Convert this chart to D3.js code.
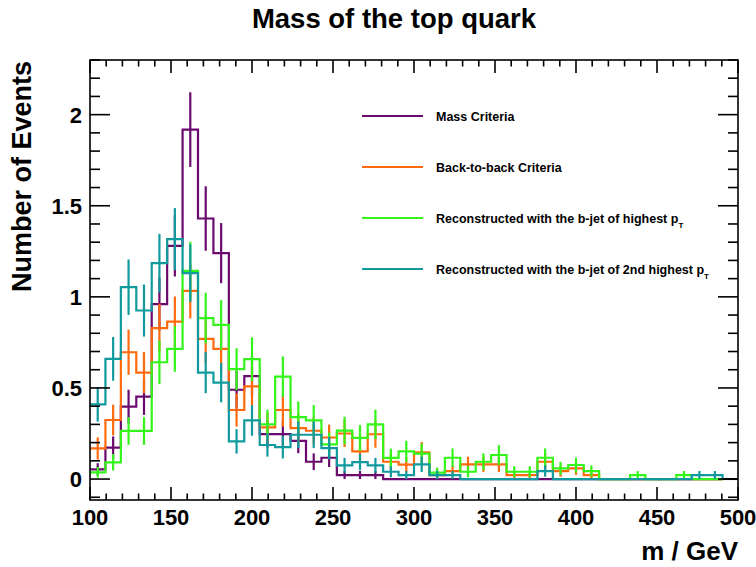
<!DOCTYPE html>
<html><head><meta charset="utf-8">
<script src="https://cdn.jsdelivr.net/npm/d3@7"></script>
<style>
body{margin:0;background:#fff}
text{font-family:"Liberation Sans",Arial,Helvetica,sans-serif;font-weight:bold;fill:#000}
</style>
</head><body>
<svg id="chart" width="756" height="567"></svg>
<script>
// ---- data (41 bins of width 400/42 GeV starting at 100 GeV) ----
const binStart = 100;
const binWidth = 400 / 42;
const seriesNames = ["Mass Criteria", "Back-to-back Criteria", "Reconstructed with the b-jet of highest p", "Reconstructed with the b-jet of 2nd highest p"];
const seriesColors = ["#6b0a6e", "#ff6a0d", "#33f51a", "#109a9e"];

const massCriteria = [0.053,0.172,0.397,0.452,0.96,1.28,1.918,1.43,1.24,0.49,0.565,0.247,0.247,0.21,0.095,0.117,0.022,0.022,0.022,0,0,0,0,0,0,0,0,0,0,0,0,0,0,0,0,0,0,0,0,0,0];
const massCriteriaErr = [0.034,0.062,0.093,0.10,0.145,0.168,0.205,0.177,0.165,0.104,0.111,0.074,0.074,0.068,0.046,0.051,0.022,0.022,0.022,0,0,0,0,0,0,0,0,0,0,0,0,0,0,0,0,0,0,0,0,0,0];

const backToBack = [0.168,0.324,0.696,0.584,0.828,0.864,1.033,0.769,0.714,0.379,0.509,0.284,0.379,0.28,0.265,0.228,0.25,0.152,0.246,0.095,0.079,0.146,0.022,0.044,0.081,0.081,0.081,0.022,0.022,0.095,0.044,0.059,0.022,0,0,0,0,0,0,0,0];
const backToBackErr = [0.061,0.084,0.124,0.113,0.135,0.138,0.151,0.130,0.125,0.091,0.106,0.079,0.091,0.078,0.076,0.071,0.074,0.058,0.074,0.046,0.042,0.057,0.022,0.031,0.042,0.042,0.042,0.022,0.022,0.046,0.031,0.036,0.022,0,0,0,0,0,0,0,0];

const highestPt = [0.037,0.092,0.264,0.264,0.641,0.714,1.143,0.883,0.846,0.603,0.658,0.30,0.562,0.34,0.322,0.19,0.266,0.226,0.30,0.116,0.152,0.14,0.035,0.117,0.04,0.095,0.132,0.04,0.04,0.117,0.059,0.077,0.044,0,0,0.022,0,0,0.022,0,0];
const highestPtErr = [0.029,0.045,0.076,0.076,0.119,0.125,0.159,0.139,0.136,0.115,0.120,0.081,0.111,0.086,0.084,0.065,0.076,0.071,0.081,0.051,0.058,0.055,0.028,0.051,0.030,0.046,0.054,0.030,0.030,0.051,0.036,0.041,0.031,0,0,0.022,0,0,0.022,0,0];

const secondPt = [0.41,0.66,1.053,0.925,1.185,1.317,1.13,0.584,0.529,0.207,0.322,0.187,0.175,0.243,0.243,0.17,0.075,0.093,0.075,0.04,0.022,0.081,0.022,0.022,0,0,0,0,0,0.044,0,0,0,0,0,0,0,0,0,0.022,0.022];
const secondPtErr = [0.095,0.120,0.152,0.143,0.161,0.170,0.158,0.113,0.108,0.067,0.084,0.064,0.062,0.073,0.073,0.061,0.041,0.045,0.041,0.030,0.022,0.042,0.022,0.022,0,0,0,0,0,0.031,0,0,0,0,0,0,0,0,0,0.022,0.022];

const xTickLabels = [100,150,200,250,300,350,400,450,500];
const yTickLabels = [0,0.5,1,1.5,2];
const xMinorStep = 10;
const yMinorStep = 0.1;

// ---- layout ----
const W = 756, H = 567;
const frame = {l: 90, r: 738, t: 60, b: 500};
const x = d3.scaleLinear().domain([100, 500]).range([frame.l, frame.r]);
const y = d3.scaleLinear().domain([-0.115, 2.3]).range([frame.b, frame.t]);

const svg = d3.select("#chart");
svg.append("rect").attr("width", W).attr("height", H).attr("fill", "#fff");

svg.append("defs").append("clipPath").attr("id", "clip")
  .append("rect").attr("x", frame.l).attr("y", frame.t)
  .attr("width", frame.r - frame.l).attr("height", frame.b - frame.t);

const plot = svg.append("g").attr("clip-path", "url(#clip)");

const series = [
  {v: massCriteria, e: massCriteriaErr},
  {v: backToBack, e: backToBackErr},
  {v: highestPt, e: highestPtErr},
  {v: secondPt, e: secondPtErr}
];

// zero line beyond the last filled bin
const histEnd = binStart + massCriteria.length * binWidth;
plot.append("line").attr("x1", x(histEnd)).attr("x2", x(500))
  .attr("y1", y(0)).attr("y2", y(0)).attr("stroke", "#000").attr("stroke-width", 2);

const stepLine = d3.line().x(d => x(d[0])).y(d => y(d[1])).curve(d3.curveStepAfter);

series.forEach((s, si) => {
  const pts = s.v.map((v, i) => [binStart + i * binWidth, v]);
  pts.push([binStart + s.v.length * binWidth, s.v[s.v.length - 1]]);
  pts.push([binStart + s.v.length * binWidth, 0]);
  const g = plot.append("g");
  g.append("path").attr("d", stepLine(pts)).attr("fill", "none")
    .attr("stroke", seriesColors[si]).attr("stroke-width", 2.2).attr("stroke-linejoin", "miter");
  s.v.forEach((v, i) => {
    const err = s.e[i];
    if (!(err > 0)) return;
    const cx = x(binStart + (i + 0.5) * binWidth);
    g.append("line").attr("x1", cx).attr("x2", cx)
      .attr("y1", y(v - err)).attr("y2", y(v + err))
      .attr("stroke", seriesColors[si]).attr("stroke-width", 2.2);
  });
});

// ---- frame and ticks ----
const axes = svg.append("g").attr("stroke", "#000").attr("stroke-width", 1.6);
axes.append("rect").attr("x", frame.l).attr("y", frame.t)
  .attr("width", frame.r - frame.l).attr("height", frame.b - frame.t).attr("fill", "none");

const xMinor = d3.range(100, 500 + 0.001, xMinorStep);
xMinor.forEach(m => {
  const major = xTickLabels.includes(Math.round(m));
  const len = major ? 13 : 6.5;
  axes.append("line").attr("x1", x(m)).attr("x2", x(m)).attr("y1", frame.b).attr("y2", frame.b - len);
  axes.append("line").attr("x1", x(m)).attr("x2", x(m)).attr("y1", frame.t).attr("y2", frame.t + len);
});
const yMinor = d3.range(-0.1, 2.3 + 0.001, yMinorStep).map(v => Math.round(v * 10) / 10);
yMinor.forEach(v => {
  const major = yTickLabels.includes(v);
  const len = major ? 20 : 10;
  axes.append("line").attr("x1", frame.l).attr("x2", frame.l + len).attr("y1", y(v)).attr("y2", y(v));
  axes.append("line").attr("x1", frame.r).attr("x2", frame.r - len).attr("y1", y(v)).attr("y2", y(v));
});

// tick labels
svg.append("g").selectAll("text").data(xTickLabels).join("text")
  .attr("x", d => x(d)).attr("y", 525).attr("text-anchor", "middle")
  .attr("font-size", 22).text(d => d);
svg.append("g").selectAll("text").data(yTickLabels).join("text")
  .attr("x", 82).attr("y", d => y(d) + 8).attr("text-anchor", "end")
  .attr("font-size", 22).text(d => d);

// titles
svg.append("text").attr("x", 394).attr("y", 28).attr("text-anchor", "middle")
  .attr("font-size", 27.5).text("Mass of the top quark");
svg.append("text").attr("x", 738).attr("y", 560).attr("text-anchor", "end")
  .attr("font-size", 26).text("m / GeV");
svg.append("text").attr("transform", "translate(31,61) rotate(-90)").attr("text-anchor", "end")
  .attr("font-size", 27).text("Number of Events");

// legend
const legY = [116, 167, 218, 269];
const leg = svg.append("g");
seriesNames.forEach((name, i) => {
  leg.append("line").attr("x1", 362).attr("x2", 423).attr("y1", legY[i]).attr("y2", legY[i])
    .attr("stroke", seriesColors[i]).attr("stroke-width", 2.2);
  const t = leg.append("text").attr("x", 436).attr("y", legY[i] + 4.5).attr("font-size", 12.5);
  t.append("tspan").text(name);
  if (i >= 2) {
    t.append("tspan").attr("font-size", 8).attr("dy", 5).text("T");
  }
});
</script>
</body></html>
